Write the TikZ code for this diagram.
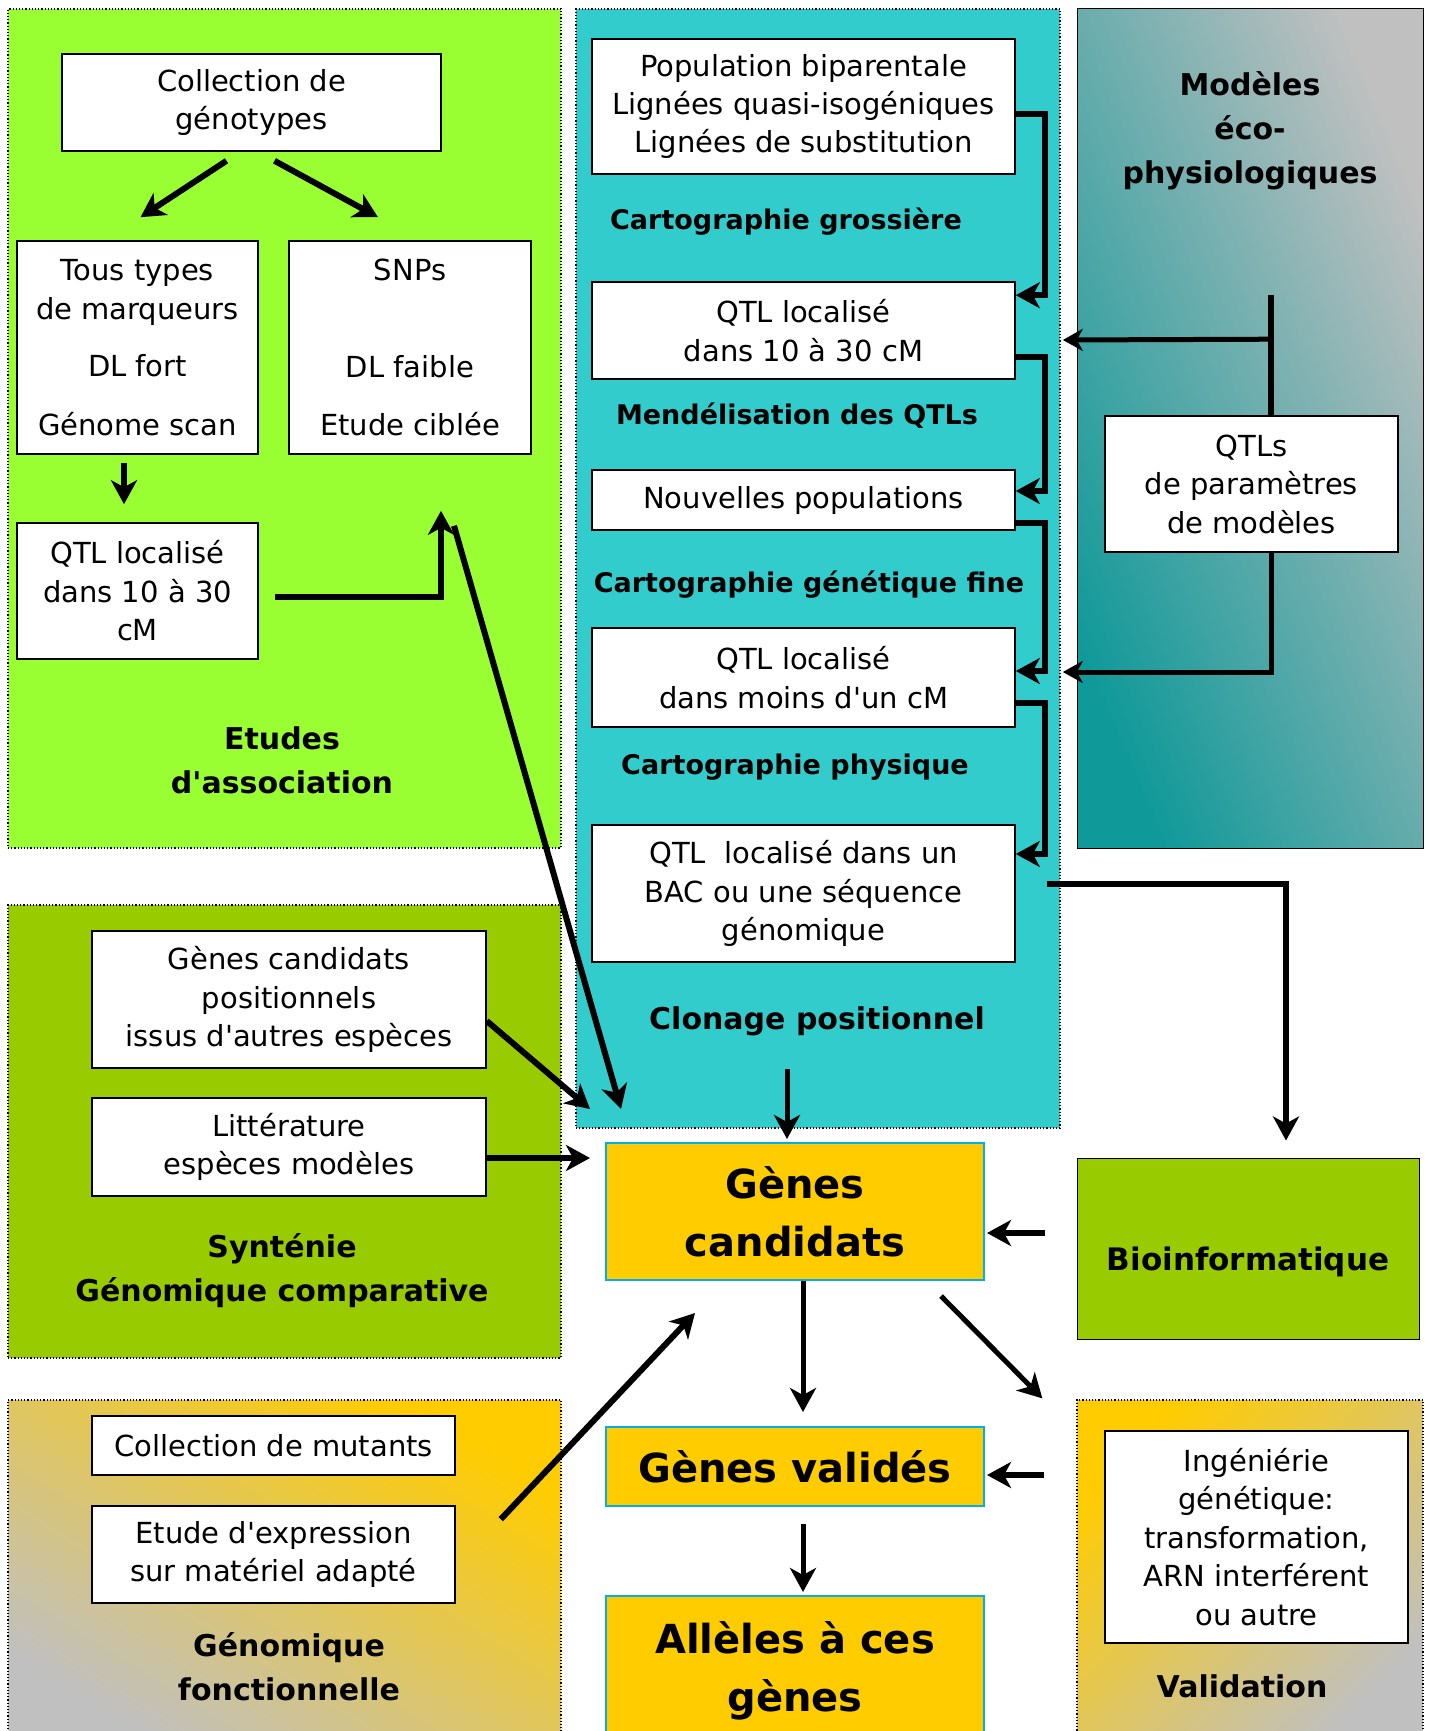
\documentclass[tikz,border=0pt]{standalone}
\usepackage{fontspec}
\setmainfont{DejaVu Sans}
\usetikzlibrary{arrows.meta}
\definecolor{assocgreen}{HTML}{99FF33}
\definecolor{cyanbg}{HTML}{33CCCC}
\definecolor{syntgreen}{HTML}{99CC00}
\definecolor{gold}{HTML}{FFCC00}
\definecolor{greybg}{HTML}{C0C0C0}
\definecolor{tealbg}{HTML}{109999}
\newcommand{\ap}{\textquotesingle}
\tikzstyle{panel} = [rectangle, draw, dotted, line width=1.2pt, inner sep=0pt]
\tikzstyle{box} = [rectangle, draw, fill=white, line width=1.6pt, inner sep=0pt, align=center, font=\fontsize{29}{38.5}\selectfont]
\tikzstyle{gene} = [rectangle, draw=cyan, fill=gold, line width=2pt, inner sep=0pt, align=center, font=\bfseries\fontsize{40}{58}\selectfont]
\tikzstyle{title} = [align=center, font=\bfseries\fontsize{30}{44}\selectfont]
\tikzstyle{subtitle} = [align=center, font=\bfseries\fontsize{27}{36}\selectfont]
\tikzstyle{arrow} = [line width=6pt, -{Stealth[length=24pt,width=26pt,inset=7pt]}]
\tikzstyle{thinarrow} = [line width=5pt, -{Stealth[length=20pt,width=22pt,inset=6pt]}]

\begin{document}
\begin{tikzpicture}[x=1pt, y=-1pt]
    \useasboundingbox[fill=white] (0,0) rectangle (1430,1731);

    % panels
    \node [panel, fill=assocgreen, minimum width=553pt, minimum height=839pt] at (284.5,428.5) (assocP) {};
    \node [panel, fill=cyanbg, minimum width=484pt, minimum height=1119pt] at (818,568.5) (cyanP) {};
    \node [panel, solid, line width=1pt, top color=greybg, bottom color=tealbg, shading angle=-67, minimum width=346pt, minimum height=839pt] at (1250,428.5) (modP) {};
    \node [panel, fill=syntgreen, minimum width=553pt, minimum height=453pt] at (284.5,1131.5) (syntP) {};
    \node [panel, top color=gold, bottom color=greybg, shading angle=-32, minimum width=553pt, minimum height=345pt] at (284.5,1572.5) (fonctP) {};
    \node [panel, top color=gold, bottom color=greybg, shading angle=45, minimum width=346pt, minimum height=345pt] at (1250,1572.5) (validP) {};

    % Etudes d'association
    \node [box, minimum width=379pt, minimum height=97pt] at (251.5,102.5) (coll) {Collection de\\génotypes};
    \node [box, minimum width=241pt, minimum height=213pt] at (137.5,347.5) (tous) {Tous types\\de marqueurs\\[19pt]DL fort\\[20pt]Génome scan};
    \node [box, minimum width=242pt, minimum height=213pt] at (410,347.5) (snps) {SNPs\\[58pt]DL faible\\[20pt]Etude ciblée};
    \node [box, minimum width=241pt, minimum height=136pt] at (137.5,591) (qtlA) {QTL localisé\\dans 10 à 30\\cM};
    \node [title] at (282,760) (assoc) {Etudes\\d\ap association};

    % Clonage positionnel
    \node [box, minimum width=423pt, minimum height=135pt] at (803.5,106.5) (pop) {Population biparentale\\Lignées quasi-isogéniques\\Lignées de substitution};
    \node [subtitle] at (786,222) (grossiere) {Cartographie grossière};
    \node [box, minimum width=423pt, minimum height=97pt] at (803.5,330.5) (qtlB) {QTL localisé\\dans 10 à 30 cM};
    \node [subtitle] at (797,416) (mendel) {Mendélisation des QTLs};
    \node [box, minimum width=423pt, minimum height=60pt] at (803.5,500) (nouv) {Nouvelles populations};
    \node [subtitle] at (809,585) (fine) {Cartographie génétique fine};
    \node [box, minimum width=423pt, minimum height=99pt] at (803.5,677.5) (qtlC) {QTL localisé\\dans moins d\ap un cM};
    \node [subtitle] at (795,767) (physique) {Cartographie physique};
    \node [box, minimum width=423pt, minimum height=137pt] at (803.5,893.5) (bac) {QTL\ \ localisé dans un\\BAC ou une séquence\\génomique};
    \node [title] at (817,1021) (clonage) {Clonage positionnel};

    % Modeles eco-physiologiques
    \node [title] at (1250,131) (modeles) {Modèles\\éco-\\physiologiques};
    \node [box, minimum width=293pt, minimum height=136pt] at (1251.5,484) (qtlP) {QTLs\\de paramètres\\de modèles};

    % Syntenie
    \node [box, minimum width=394pt, minimum height=137pt] at (289,999.5) (gpos) {Gènes candidats\\positionnels\\issus d\ap autres espèces};
    \node [box, minimum width=394pt, minimum height=98pt] at (289,1147) (litt) {Littérature\\espèces modèles};
    \node [title] at (282,1271) (synt) {Synténie\\Génomique comparative};

    % Genomique fonctionnelle
    \node [box, minimum width=363pt, minimum height=59pt] at (273.5,1445.5) (mutants) {Collection de mutants};
    \node [box, minimum width=363pt, minimum height=97pt] at (273.5,1554.5) (expr) {Etude d\ap expression\\sur matériel adapté};
    \node [title] at (289,1667) (fonct) {Génomique\\fonctionnelle};

    % Validation, bioinformatique
    \node [rectangle, draw, line width=1pt, fill=syntgreen, minimum width=342pt, minimum height=181pt, text height=51pt, text depth=8pt, font=\bfseries\fontsize{31}{44}\selectfont] at (1248,1248.5) (bioinfo) {Bioinformatique};
    \node [box, minimum width=303pt, minimum height=212pt] at (1256.5,1537) (ing) {Ingéniérie\\génétique:\\transformation,\\ARN interférent\\ou autre};
    \node [title] at (1242,1686) (valid) {Validation};

    % genes
    \node [gene, minimum width=378pt, minimum height=137pt] at (795,1211.5) (cand) {Gènes\\candidats};
    \node [gene, minimum width=378pt, minimum height=79pt] at (795,1466.5) (valides) {Gènes validés};
    \node [gene, minimum width=378pt, minimum height=150pt] at (795,1671) (alleles) {Allèles à ces\\gènes};

    \draw [arrow] ([xshift=-25pt,yshift=-9pt]coll.south) -- ([xshift=3pt,yshift=23pt]tous.north);
    \draw [arrow] ([xshift=23pt,yshift=-9pt]coll.south) -- ([xshift=-32pt,yshift=23pt]snps.north);
    \draw [arrow] ([xshift=-13.5pt,yshift=-8pt]tous.south) -- ([xshift=-13.5pt,yshift=18pt]qtlA.north);
    \draw [arrow] ([xshift=16pt,yshift=-6pt]qtlA.east) -| ([xshift=31pt,yshift=-56pt]snps.south);
    \draw [arrow] ([xshift=44pt,yshift=-71pt]snps.south) -- ([xshift=16pt,yshift=33pt]cand.north west);

    \draw [arrow] ([yshift=-7.5pt]pop.east) -- ++(29,0) |- ([yshift=-14pt]qtlB.north east);
    \draw [arrow] ([yshift=-26.5pt]qtlB.east) -- ++(29,0) |- ([yshift=9pt]nouv.east);
    \draw [arrow] ([yshift=-23pt]nouv.east) -- ++(29,0) |- ([yshift=6.5pt]qtlC.east);
    \draw [arrow] ([yshift=-25.5pt]qtlC.east) -- ++(29,0) |- ([yshift=39.5pt]bac.east);
    \draw [arrow] ([xshift=31pt,yshift=9.5pt]bac.east) -| ([xshift=38pt,yshift=17pt]bioinfo.north);
    \draw [arrow, line width=5pt] ([xshift=-30pt,yshift=-48pt]clonage.center) -- ([xshift=-8pt,yshift=3pt]cand.north);

    \draw [line width=6pt] ([xshift=19.5pt,yshift=120pt]qtlP.north) -- ([xshift=19.5pt]qtlP.north);
    \draw [thinarrow] ([xshift=19.5pt,yshift=76pt]qtlP.north) -- ([xshift=47pt,yshift=-9.5pt]qtlB.east);
    \draw [thinarrow] ([xshift=19.5pt]qtlP.south) |- ([xshift=47pt,yshift=5.5pt]qtlC.east);

    \draw [arrow] ([yshift=-21.5pt]gpos.east) -- ([xshift=-15pt,yshift=33pt]cand.north west);
    \draw [arrow] ([yshift=-11pt]litt.east) -- ([xshift=-15pt,yshift=53.5pt]cand.west);
    \draw [arrow] ([xshift=-32pt,yshift=15.5pt]bioinfo.west) -- ([xshift=2pt,yshift=-21.5pt]cand.east);
    \draw [arrow, line width=5pt] ([xshift=8pt]cand.south) -- ([xshift=8pt,yshift=14pt]valides.north);
    \draw [arrow, line width=5pt] ([xshift=-44pt,yshift=-15pt]cand.south east) -- ([xshift=-34pt,yshift=1pt]validP.north west);
    \draw [arrow] ([xshift=-32pt,yshift=97.5pt]validP.west) -- ([xshift=2pt,yshift=-8.5pt]valides.east);
    \draw [arrow, line width=5pt] ([xshift=8pt,yshift=-17pt]valides.south) -- ([xshift=8pt,yshift=3pt]alleles.north);
    \draw [arrow] ([xshift=45pt,yshift=-14pt]expr.north east) -- ([xshift=90pt,yshift=-32pt]cand.south west);
\end{tikzpicture}
\end{document}
